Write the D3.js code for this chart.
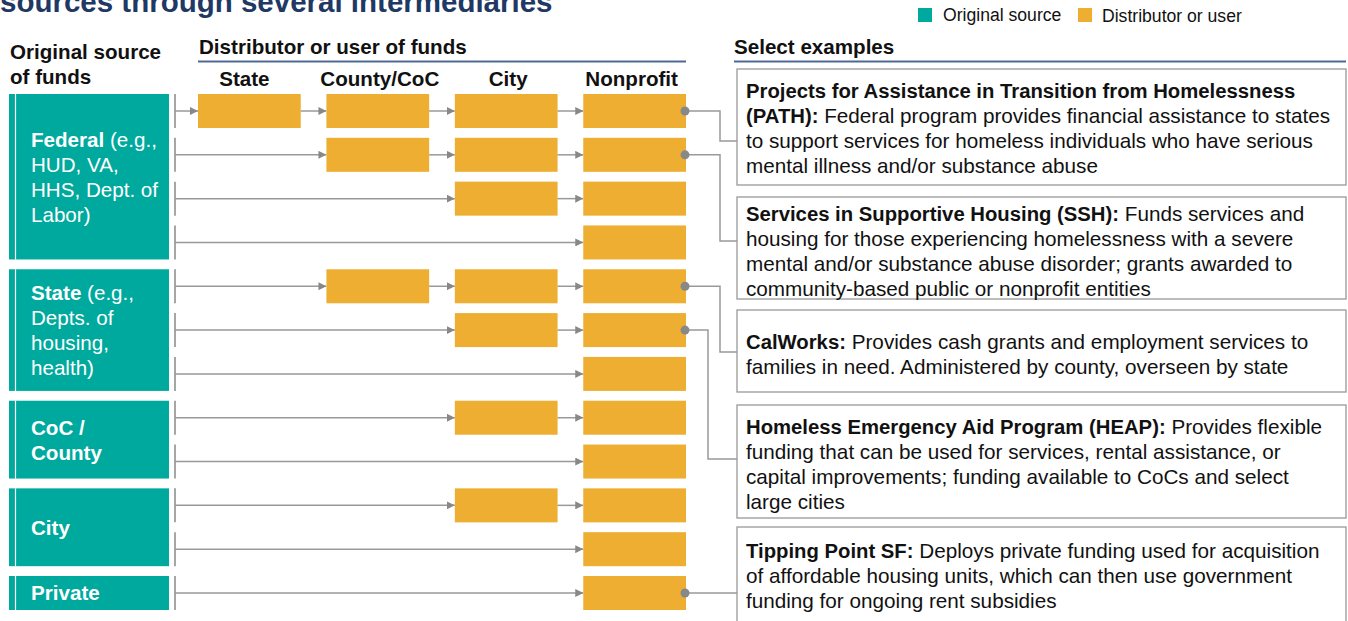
<!DOCTYPE html>
<html lang="en">
<head>
    <meta charset="UTF-8">
    <script src="https://d3js.org/d3.v7.min.js"></script>
    <title>Funding flows</title>
    <style>
        body { margin: 0; background: #fff; }
        svg { display: block; font-family: "Liberation Sans", Arial, sans-serif; }
    </style>
</head>
<body>
<script>
    // ---- data ----
    const columns = ["State", "County/CoC", "City", "Nonprofit"];
    const sourceNames = ["Federal", "State", "CoC / County", "City", "Private"];
    const sourceRowCounts = [4, 3, 2, 2, 1];
    // label lines per source: [bold part, normal part]
    const sourceLabels = [
        [["Federal", " (e.g.,"], ["", "HUD, VA,"], ["", "HHS, Dept. of"], ["", "Labor)"]],
        [["State", " (e.g.,"], ["", "Depts. of"], ["", "housing,"], ["", "health)"]],
        [["CoC /", ""], ["County", ""]],
        [["City", ""]],
        [["Private", ""]]
    ];
    // first distributor column reached by each row (the chain then runs to Nonprofit)
    const rowFirstColumn = [0, 1, 2, 3, 1, 2, 3, 2, 3, 2, 3, 3];
    const exampleRows = [0, 1, 4, 5, 11];
    const exampleLines = [
        [["Projects for Assistance in Transition from Homelessness", ""],
         ["(PATH):", " Federal program provides financial assistance to states"],
         ["", "to support services for homeless individuals who have serious"],
         ["", "mental illness and/or substance abuse"]],
        [["Services in Supportive Housing (SSH):", " Funds services and"],
         ["", "housing for those experiencing homelessness with a severe"],
         ["", "mental and/or substance abuse disorder; grants awarded to"],
         ["", "community-based public or nonprofit entities"]],
        [["CalWorks:", " Provides cash grants and employment services to"],
         ["", "families in need. Administered by county, overseen by state"]],
        [["Homeless Emergency Aid Program (HEAP):", " Provides flexible"],
         ["", "funding that can be used for services, rental assistance, or"],
         ["", "capital improvements; funding available to CoCs and select"],
         ["", "large cities"]],
        [["Tipping Point SF:", " Deploys private funding used for acquisition"],
         ["", "of affordable housing units, which can then use government"],
         ["", "funding for ongoing rent subsidies"]]
    ];
    const legendItems = ["Original source", "Distributor or user"];

    // ---- layout ----
    const W = 1348, H = 621;
    const teal = "#00A99D", orange = "#EDAE31", navy = "#1F3864", rule = "#4C6A92";
    const gray = "#999", dark = "#111";
    const fs = 20.6;
    const boxY = [[69, 185], [197, 299], [310, 392], [405, 518], [527, 640]];
    const textMid = [128, 251, 354.5, 464, 575.5];
    const bendX = [720, 720, 720, 708, null];
    const bendY = [141, 241, 352, 459, 591];
    const hdrShift = [-5, 2, 2, -3];
    const boxLeft = 737, boxRight = 1346;

    const svg = d3.select("body").append("svg").attr("width", W).attr("height", H);

    svg.append("defs").append("marker").attr("id", "arr")
        .attr("viewBox", "0 0 10 10").attr("refX", 10).attr("refY", 5)
        .attr("markerWidth", 8).attr("markerHeight", 8).attr("markerUnits", "userSpaceOnUse")
        .attr("orient", "auto")
        .append("path").attr("d", "M0,0L10,5L0,10Z").attr("fill", "#888");

    const x = d3.scaleBand().domain(columns).range([198, 686]).paddingInner(0.2);
    const rowIdx = d3.range(rowFirstColumn.length);
    const y = d3.scaleBand().domain(rowIdx).range([94, 610]).paddingInner(0.224);
    const yc = i => y(i) + y.bandwidth() / 2;

    // mixed bold / normal multi-line text
    function multiline(sel, lines, x0, firstBase, boldSize) {
        lines.forEach((ln, k) => {
            const by = firstBase + k * 25;
            if (ln[0]) {
                const b = sel.append("tspan").attr("x", x0).attr("y", by).attr("font-weight", "bold").text(ln[0]);
                if (boldSize) b.attr("font-size", boldSize);
            }
            if (ln[1]) {
                const ts = sel.append("tspan").text(ln[1]);
                if (!ln[0]) ts.attr("x", x0).attr("y", by);
            }
        });
    }

    // title (cut off at top)
    svg.append("text").attr("x", 0).attr("y", 12)
        .attr("font-size", 29.5).attr("font-weight", "bold").attr("fill", navy)
        .text("sources through several intermediaries");

    // legend
    const legColors = [teal, orange];
    const legX = [918, 1078];
    legendItems.forEach((t, i) => {
        svg.append("rect").attr("x", legX[i]).attr("y", 8).attr("width", 14).attr("height", 14).attr("fill", legColors[i]);
        svg.append("text").attr("x", legX[i] + 25 - i).attr("y", 21 + i).attr("font-size", 17.6).attr("fill", dark).text(t);
    });

    // headers
    const hdr = svg.append("g").attr("font-weight", "bold").attr("fill", dark).attr("font-size", fs);
    hdr.append("text").attr("x", 10).attr("y", 59).text("Original source");
    hdr.append("text").attr("x", 10).attr("y", 84).text("of funds");
    hdr.append("text").attr("x", 199).attr("y", 54).text("Distributor or user of funds");
    hdr.append("text").attr("x", 734).attr("y", 54).text("Select examples");
    svg.append("line").attr("x1", 198).attr("x2", 686).attr("y1", 61.5).attr("y2", 61.5).attr("stroke", rule).attr("stroke-width", 2);
    svg.append("line").attr("x1", 734).attr("x2", 1346).attr("y1", 61.5).attr("y2", 61.5).attr("stroke", rule).attr("stroke-width", 2);
    hdr.selectAll("text.col").data(columns).join("text").attr("class", "col")
        .attr("x", (d, i) => x(d) + x.bandwidth() / 2 + hdrShift[i]).attr("y", 86)
        .attr("text-anchor", "middle").text(d => d);

    // sources (teal blocks)
    let start = 0;
    sourceNames.forEach((name, s) => {
        const n = sourceRowCounts[s];
        const top = y(start), bottom = y(start + n - 1) + y.bandwidth();
        svg.append("rect").attr("x", 9).attr("y", top).attr("width", 160).attr("height", bottom - top).attr("fill", teal);
        svg.append("line").attr("x1", 15.5).attr("x2", 15.5).attr("y1", top).attr("y2", bottom).attr("stroke", "#fff").attr("stroke-width", 1.2);
        const lines = sourceLabels[s];
        const mid = (top + bottom) / 2;
        const t = svg.append("text").attr("fill", "#fff").attr("font-size", fs);
        multiline(t, lines, 31, mid - (lines.length - 1) * 12.5 + 7.5);
        start += n;
    });

    // rows: bracket, arrows, boxes
    rowIdx.forEach(i => {
        const cy = yc(i);
        svg.append("line").attr("x1", 175).attr("x2", 175).attr("y1", y(i)).attr("y2", y(i) + y.bandwidth())
            .attr("stroke", "#888").attr("stroke-width", 1.5);
        const cols = columns.slice(rowFirstColumn[i]);
        let from = 175;
        cols.forEach(c => {
            svg.append("line").attr("x1", from).attr("x2", x(c)).attr("y1", cy).attr("y2", cy)
                .attr("stroke", gray).attr("stroke-width", 1.5).attr("marker-end", "url(#arr)");
            svg.append("rect").attr("x", x(c)).attr("y", y(i)).attr("width", x.bandwidth()).attr("height", y.bandwidth()).attr("fill", orange);
            from = x(c) + x.bandwidth();
        });
    });

    // example boxes and connectors
    exampleLines.forEach((lines, e) => {
        const [t0, t1] = boxY[e];
        svg.append("rect").attr("x", boxLeft).attr("y", t0).attr("width", boxRight - boxLeft).attr("height", t1 - t0)
            .attr("fill", "#fff").attr("stroke", gray).attr("stroke-width", 1.3);
        const t = svg.append("text").attr("fill", dark).attr("font-size", 20.7);
        multiline(t, lines, 746, textMid[e] - (lines.length - 1) * 12.5 + 7, 20.3);
        const r = exampleRows[e];
        const dx = x("Nonprofit") + x.bandwidth(), dy = yc(r);
        const p = bendX[e] == null
            ? `M${dx},${dy}H${boxLeft}`
            : `M${dx},${dy}H${bendX[e]}V${bendY[e]}H${boxLeft}`;
        svg.append("path").attr("d", p).attr("fill", "none").attr("stroke", gray).attr("stroke-width", 1.5);
        svg.append("circle").attr("cx", dx - 1).attr("cy", dy).attr("r", 4.5).attr("fill", "#888");
    });
</script>
</body>
</html>
